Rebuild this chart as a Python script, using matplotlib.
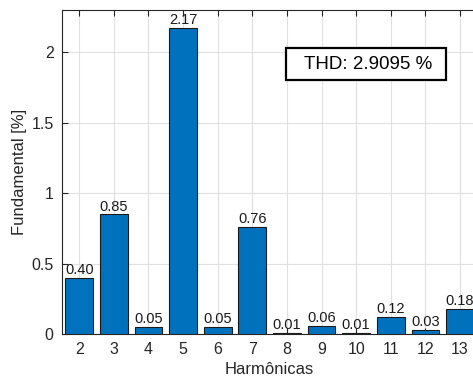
import matplotlib
matplotlib.use("Agg")
import matplotlib.pyplot as plt
from matplotlib.patches import Rectangle

harmonics = [2, 3, 4, 5, 6, 7, 8, 9, 10, 11, 12, 13]
values = [0.40, 0.85, 0.05, 2.17, 0.05, 0.76, 0.01, 0.06, 0.01, 0.12, 0.03, 0.18]
thd_text = "THD: 2.9095 %"
yticks = [0, 0.5, 1, 1.5, 2]
ytick_labels = ["0", "0.5", "1", "1.5", "2"]

plt.rcParams['font.family'] = ['Liberation Sans', 'DejaVu Sans']
ax_color = '#262626'

fig = plt.figure(figsize=(4.73, 3.80), dpi=100)
ax = fig.add_axes([0.131, 0.121, 0.878, 0.853])

ax.bar(harmonics, values, width=0.8, color='#0072BD', edgecolor='#1a1a1a',
       linewidth=0.8, zorder=3)
for h, v in zip(harmonics, values):
    ax.text(h, v + 0.005, f"{v:.2f}", ha='center', va='bottom', fontsize=10.5,
            color='#1a1a1a', zorder=4)

ax.set_xlim(1.5, 13.5)
ax.set_ylim(0, 2.3)
ax.set_xticks(harmonics)
ax.set_yticks(yticks)
ax.set_yticklabels(ytick_labels)
ax.grid(True, color='#e0e0e0', linewidth=0.8, zorder=0)
ax.set_axisbelow(True)
ax.tick_params(direction='in', top=True, right=False, length=4, labelsize=11.5,
               colors=ax_color, width=0.8, pad=6)
for s in ax.spines.values():
    s.set_color(ax_color)
    s.set_linewidth(0.8)
ax.spines['right'].set_visible(False)

ax.set_xlabel("Harmônicas", fontsize=12, color=ax_color, labelpad=3)
ax.set_ylabel("Fundamental [%]", fontsize=12, color=ax_color, labelpad=3)

ax.add_patch(Rectangle((7.965, 1.801), 12.605 - 7.965, 2.028 - 1.801,
                       facecolor='white', edgecolor='black', linewidth=1.6,
                       zorder=5))
ax.text(10.357, 1.912, thd_text, ha='center', va='center', fontsize=13.5,
        color='black', zorder=6)

fig.savefig("out.png", dpi=100)
